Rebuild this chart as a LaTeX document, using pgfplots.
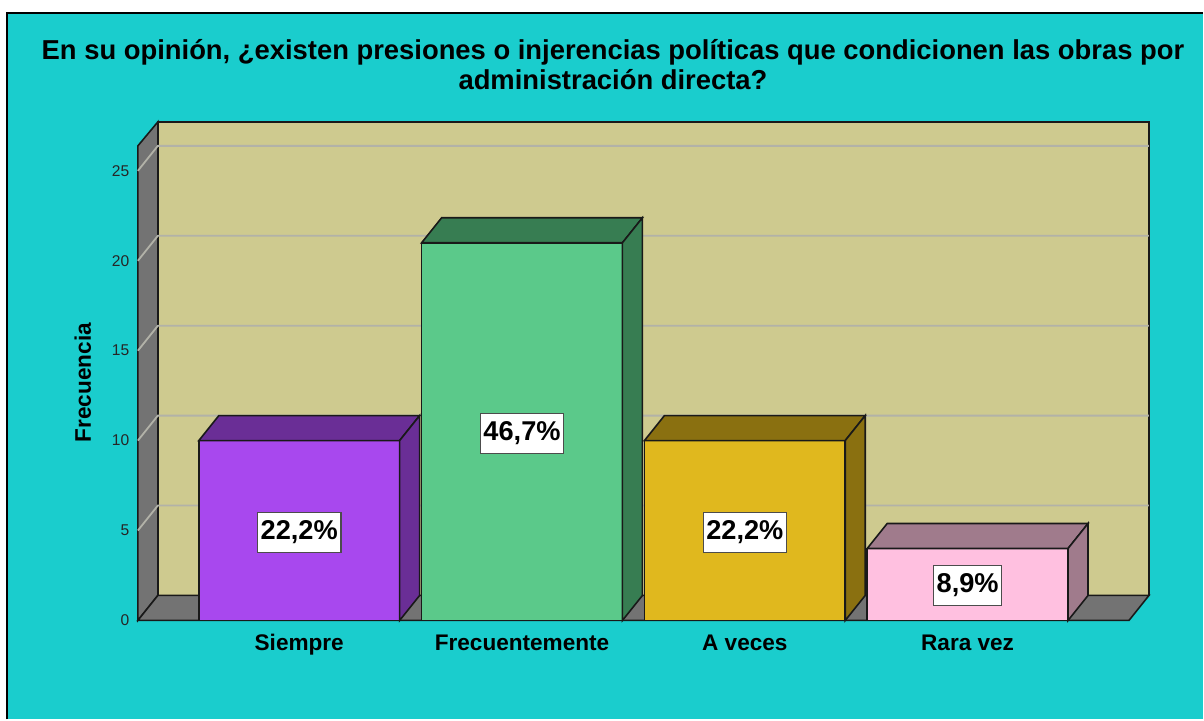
\documentclass[border=0pt]{standalone}
\usepackage{pgfplots}
\pgfplotsset{compat=1.18}
\usepackage{fontspec}
\setmainfont{Liberation Sans}
\definecolor{bgcyan}{RGB}{26,205,205}
\definecolor{wallc}{RGB}{206,202,143}
\definecolor{sidec}{RGB}{115,115,115}
\definecolor{gridc}{RGB}{178,178,168}
\definecolor{purF}{RGB}{168,72,238}
\definecolor{purD}{RGB}{106,46,150}
\definecolor{grnF}{RGB}{91,201,138}
\definecolor{grnD}{RGB}{55,125,82}
\definecolor{gldF}{RGB}{224,184,30}
\definecolor{gldD}{RGB}{138,112,16}
\definecolor{pnkF}{RGB}{255,192,224}
\definecolor{pnkD}{RGB}{160,123,140}
\definecolor{edge}{RGB}{25,25,25}
\begin{document}
\begin{tikzpicture}
\begin{axis}[
  x=111.5pt, y=9pt,
  xmin=-0.72422, xmax=3.72422, ymin=0, ymax=26.38889,
  clip=false,
  axis on top=true,
  axis x line*=bottom, axis y line*=left,
  axis line style={draw=none},
  tick style={draw=none},
  xtick={0,1,2,3},
  xticklabels={Siempre,Frecuentemente,A veces,Rara vez},
  ytick={0,5,10,15,20,25},
  /pgf/number format/assume math mode=true,
  xticklabel style={font=\fontsize{11.3}{13}\selectfont\bfseries, anchor=base, yshift=-14.85pt},
  yticklabel style={font=\fontsize{7.8}{9}\selectfont, text=black!85, xshift=-0.8pt},
]
% page background
\fill[white] (axis cs:-1.34305,34.5) rectangle (axis cs:4.05605,-5.5);
\fill[bgcyan] (axis cs:-1.31166,33.778) rectangle (axis cs:4.05605,-5.5);
\draw[black, line width=1.1pt] (axis cs:-1.31166,-5.5) -- (axis cs:-1.31166,33.778) -- (axis cs:4.05605,33.778);
% walls
\addplot[fill=wallc, draw=edge, line width=0.8pt] coordinates {(-0.63453,1.38889) (3.81390,1.38889) (3.81390,27.72222) (-0.63453,27.72222)} -- cycle;
\addplot[fill=sidec, draw=edge, line width=0.8pt] coordinates {(-0.72422,0) (-0.63453,1.38889) (-0.63453,27.72222) (-0.72422,26.38889)} -- cycle;
\addplot[fill=sidec, draw=edge, line width=0.8pt] coordinates {(-0.72422,0) (3.72422,0) (3.81390,1.38889) (-0.63453,1.38889)} -- cycle;
% grid lines
\addplot[gridc, line width=0.9pt] coordinates {(-0.72422,5) (-0.63453,6.38889) (3.81390,6.38889)};
\addplot[gridc, line width=0.9pt] coordinates {(-0.72422,10) (-0.63453,11.38889) (3.81390,11.38889)};
\addplot[gridc, line width=0.9pt] coordinates {(-0.72422,15) (-0.63453,16.38889) (3.81390,16.38889)};
\addplot[gridc, line width=0.9pt] coordinates {(-0.72422,20) (-0.63453,21.38889) (3.81390,21.38889)};
\addplot[gridc, line width=0.9pt] coordinates {(-0.72422,25) (-0.63453,26.38889) (3.81390,26.38889)};
% Siempre (10)
\addplot[fill=purF, draw=edge, line width=0.8pt] coordinates {(-0.45067,0) (0.45067,0) (0.45067,10) (-0.45067,10)} -- cycle;
\addplot[fill=purD, draw=edge, line width=0.8pt] coordinates {(-0.45067,10) (-0.36099,11.38889) (0.54036,11.38889) (0.45067,10)} -- cycle;
\addplot[fill=purD, draw=edge, line width=0.8pt] coordinates {(0.45067,0) (0.54036,1.38889) (0.54036,11.38889) (0.45067,10)} -- cycle;
% Frecuentemente (21)
\addplot[fill=grnF, draw=edge, line width=0.8pt] coordinates {(0.54933,0) (1.45067,0) (1.45067,21) (0.54933,21)} -- cycle;
\addplot[fill=grnD, draw=edge, line width=0.8pt] coordinates {(0.54933,21) (0.63902,22.38889) (1.54036,22.38889) (1.45067,21)} -- cycle;
\addplot[fill=grnD, draw=edge, line width=0.8pt] coordinates {(1.45067,0) (1.54036,1.38889) (1.54036,22.38889) (1.45067,21)} -- cycle;
% A veces (10)
\addplot[fill=gldF, draw=edge, line width=0.8pt] coordinates {(1.54933,0) (2.45067,0) (2.45067,10) (1.54933,10)} -- cycle;
\addplot[fill=gldD, draw=edge, line width=0.8pt] coordinates {(1.54933,10) (1.63902,11.38889) (2.54036,11.38889) (2.45067,10)} -- cycle;
\addplot[fill=gldD, draw=edge, line width=0.8pt] coordinates {(2.45067,0) (2.54036,1.38889) (2.54036,11.38889) (2.45067,10)} -- cycle;
% Rara vez (4)
\addplot[fill=pnkF, draw=edge, line width=0.8pt] coordinates {(2.54933,0) (3.45067,0) (3.45067,4) (2.54933,4)} -- cycle;
\addplot[fill=pnkD, draw=edge, line width=0.8pt] coordinates {(2.54933,4) (2.63902,5.38889) (3.54036,5.38889) (3.45067,4)} -- cycle;
\addplot[fill=pnkD, draw=edge, line width=0.8pt] coordinates {(3.45067,0) (3.54036,1.38889) (3.54036,5.38889) (3.45067,4)} -- cycle;
% percentage labels
\tikzset{pct/.style={fill=white, draw=black!70, line width=0.6pt, inner xsep=1.6pt, inner ysep=1pt, minimum height=20pt, font=\fontsize{13.6}{15}\selectfont\bfseries}}
\node[pct] at (axis cs:0,4.9) {22,2\%};
\node[pct] at (axis cs:1,10.4) {46,7\%};
\node[pct] at (axis cs:2,4.9) {22,2\%};
\node[pct] at (axis cs:3,1.95) {8,9\%};
% title and axis label
\node[font=\fontsize{13.7}{15}\selectfont\bfseries] at (axis cs:1.40807,31.611) {En su opinión, ¿existen presiones o injerencias políticas que condicionen las obras por};
\node[font=\fontsize{13.7}{15}\selectfont\bfseries] at (axis cs:1.40807,30.056) {administración directa?};
\node[font=\fontsize{11.3}{13}\selectfont\bfseries, rotate=90] at (axis cs:-0.97085,13.222) {Frecuencia};
\end{axis}
\end{tikzpicture}
\end{document}
